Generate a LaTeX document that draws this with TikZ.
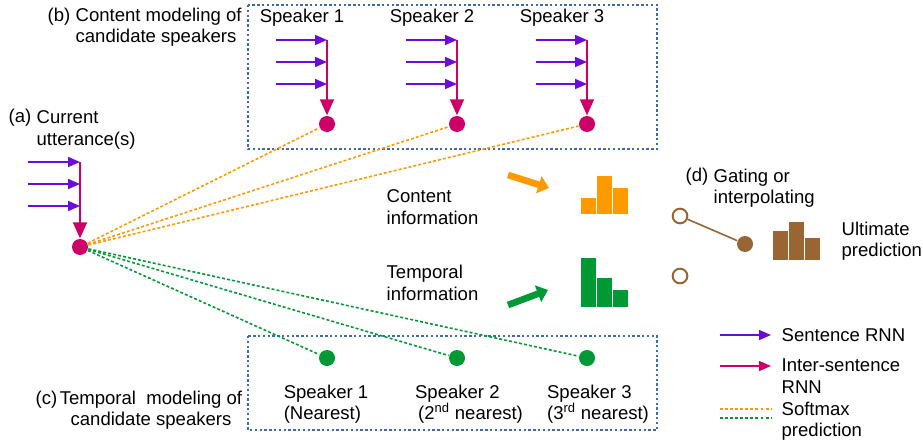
\documentclass[tikz,border=0pt]{standalone}
\usepackage{fontspec}
\setmainfont{Liberation Sans}
\usetikzlibrary{arrows.meta,positioning}
\definecolor{sentviolet}{HTML}{6A0DD8}
\definecolor{interpink}{HTML}{CC0066}
\definecolor{softorange}{HTML}{FF9900}
\definecolor{softgreen}{HTML}{009933}
\definecolor{gatebrown}{HTML}{996633}
\definecolor{boxblue}{HTML}{3E6AAE}
\tikzset{
every picture/.style={
line width=1pt
},
txt/.style={inner sep=0pt, font=\fontsize{13.9}{16}\selectfont},
sentarrow/.style={sentviolet, line width=1.3pt, -{Triangle[length=9pt,width=7.5pt]}},
interarrow/.style={interpink, line width=1.2pt, -{Triangle[length=12pt,width=10.5pt]}},
softline/.style={line width=1.2pt, dash pattern=on 2.2pt off 1.6pt},
dot/.style={circle, fill=#1, inner sep=0pt, minimum size=12pt},
ring/.style={circle, draw=gatebrown, line width=1.5pt, inner sep=0pt, minimum size=11pt},
groupbox/.style={boxblue, line width=1pt, dash pattern=on 1.8pt off 1.8pt},
fatarrow/.style={line width=5pt, -{Triangle[length=8pt,width=13pt]}}
}

\begin{document}
\begin{tikzpicture}[x=0.75pt,y=-0.75pt]
\useasboundingbox (0,0) rectangle (923,439);

% boxes
\draw[groupbox] (248,5) rectangle (657,149);
\draw[groupbox] (248,336) rectangle (657,430);

% current utterance
\node[dot=interpink] (u) at (80,247) {};
\coordinate (ut) at (80,162);
\foreach \y [count=\j] in {162,184,206}{
  \coordinate (ua\j) at (28,\y);
  \coordinate (ub\j) at (80,\y);
  \draw[sentarrow] (ua\j) -- (ub\j);
}
\draw[interarrow] (ut) -- (u);
\node[txt, anchor=west] (a) at (8,118) {(a)};
\node[txt, anchor=west, align=left] (alab) at (36,130) {Current\\utterance(s)};

% content modeling
\node[txt, anchor=west] (b) at (47,17) {(b)};
\node[txt, anchor=west, align=left] (blab) at (75,27) {Content modeling of\\candidate speakers};
\foreach \x [count=\i] in {327,457,587}{
  \node[txt] (cs\i) at (\x-25,18) {Speaker \i};
  \node[dot=interpink] (c\i) at (\x,124) {};
  \coordinate (ct\i) at (\x,40);
  \foreach \y [count=\j] in {40,62,84}{
    \coordinate (ca\i\j) at (\x-51,\y);
    \coordinate (cb\i\j) at (\x,\y);
    \draw[sentarrow] (ca\i\j) -- (cb\i\j);
  }
  \draw[interarrow] (ct\i) -- (c\i);
  \draw[softline, softorange] (u) -- (c\i);
}

% temporal modeling
\foreach \x [count=\i] in {327,457,587}{
  \node[dot=softgreen] (t\i) at (\x,358) {};
  \draw[softline, softgreen] (u) -- (t\i);
}
\node[txt, align=left] (ts1) at (326,404) {Speaker 1\\(Nearest)};
\node[txt, align=left] (ts2) at (469,404) {Speaker 2\\\,(2\textsuperscript{nd} nearest)};
\node[txt, align=left] (ts3) at (598,404) {Speaker 3\\(3\textsuperscript{rd} nearest)};
\node[txt, anchor=west] (c) at (35,400) {(c)};
\node[txt, align=center] (clab) at (151,410) {Temporal\ \ modeling of\\candidate speakers};

% predictions
\node[txt, anchor=west, align=left] (cinfo) at (386,207) {Content\\information};
\node[txt, anchor=west, align=left] (tinfo) at (386,283) {Temporal\\information};
\coordinate (oa) at (508,175);
\coordinate (ob) at (549,188);
\draw[fatarrow, softorange] (oa) -- (ob);
\coordinate (ga) at (508,305);
\coordinate (gb) at (548,290);
\draw[fatarrow, softgreen] (ga) -- (gb);
\foreach \h [count=\k] in {198,176,188}
  \fill[softorange] (565+16*\k,\h) rectangle (580+16*\k,214);
\foreach \h [count=\k] in {258,278,290}
  \fill[softgreen] (565+16*\k,\h) rectangle (580+16*\k,307);

% gating
\node[ring] (g1) at (680,216) {};
\node[ring] (g2) at (680,276) {};
\node[dot=gatebrown] (gout) at (745,244) {};
\draw[gatebrown, line width=1.2pt] (g1) -- (gout);
\node[txt, anchor=west] (d) at (685,177) {(d)};
\node[txt, anchor=west, align=left] (dlab) at (713,188) {Gating or\\interpolating};
\foreach \h [count=\k] in {231,222,238}
  \fill[gatebrown] (757+16*\k,\h) rectangle (772+16*\k,260);
\node[txt, anchor=west, align=left] (ult) at (841,241) {Ultimate\\prediction};

% legend
\coordinate (l1a) at (720,335);
\coordinate (l1b) at (771,335);
\draw[sentarrow, line width=1pt] (l1a) -- (l1b);
\node[txt, anchor=west] (l1) at (781,335) {Sentence RNN};
\coordinate (l2a) at (720,366);
\coordinate (l2b) at (771,366);
\draw[interpink, line width=1pt, -{Triangle[length=9pt,width=7.5pt]}] (l2a) -- (l2b);
\node[txt, anchor=west, align=left] (l2) at (781,376) {Inter-sentence\\RNN};
\coordinate (l3a) at (720,409);
\coordinate (l3b) at (771,409);
\coordinate (l4a) at (720,418);
\coordinate (l4b) at (771,418);
\draw[softline, softorange] (l3a) -- (l3b);
\draw[softline, softgreen] (l4a) -- (l4b);
\node[txt, anchor=west, align=left] (l3) at (781,421) {Softmax\\prediction};

\end{tikzpicture}
\end{document}
